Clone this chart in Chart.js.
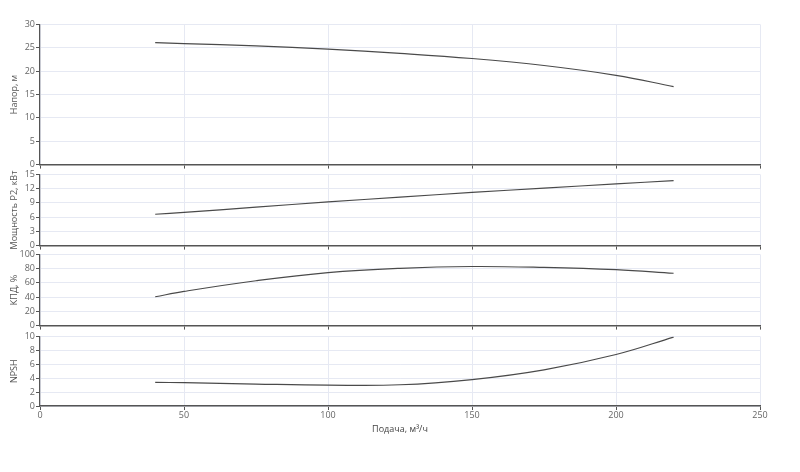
<!DOCTYPE html>
<html>
<head>
<meta charset="utf-8">
<script src="https://cdn.jsdelivr.net/npm/chart.js@4.4.1/dist/chart.umd.min.js"></script>
<style>
  body { margin: 0; background: #fff; }
  #wrap { position: relative; width: 800px; height: 472px; }
  canvas { position: absolute; left: 0; }
</style>
</head>
<body>
<div id="wrap">
  <canvas id="c-head" width="800" height="153" style="top:18px"></canvas>
  <canvas id="c-power" width="800" height="84" style="top:168px"></canvas>
  <canvas id="c-eff" width="800" height="84" style="top:248px"></canvas>
  <canvas id="c-npsh" width="800" height="105" style="top:330px"></canvas>
</div>
<script>
//data
const flow = [40, 50, 75, 100, 125, 150, 175, 200, 220];
const head = [26.1, 25.9, 25.4, 24.7, 23.8, 22.7, 21.2, 19.1, 16.7];
const power = [6.6, 7.0, 8.1, 9.2, 10.2, 11.2, 12.1, 13.0, 13.7];
const efficiency = [40.5, 48, 63, 74.5, 80.5, 83, 81.7, 78.5, 73.5];
const npsh = [3.4, 3.35, 3.15, 3.0, 3.05, 3.8, 5.2, 7.4, 9.9];

const xTicks = [0, 50, 100, 150, 200, 250];

const FONT = 'Open Sans';
const gridColor = '#e6e9f3';
const axisColor = '#555';

//build one panel
function makePanel(id, values, yTitle, yMax, yStep, last) {
  const points = flow.map((q, i) => ({x: q, y: values[i]}));
  return new Chart(document.getElementById(id), {
    type: 'line',
    data: {
      datasets: [{
        data: points,
        borderColor: '#4a4a4a',
        borderWidth: 1.2,
        pointRadius: 0,
        tension: 0.4,
        fill: false
      }]
    },
    options: {
      responsive: false,
      animation: false,
      layout: { padding: { top: 6, right: 40, left: 0, bottom: 0 } },
      plugins: { legend: { display: false }, tooltip: { enabled: false } },
      scales: {
        x: {
          type: 'linear',
          min: 0,
          max: 250,
          afterBuildTicks: (scale) => { scale.ticks = xTicks.map(v => ({value: v})); },
          afterFit: (scale) => { scale.height = last ? 29 : 6; },
          grid: { color: gridColor, tickColor: axisColor, tickLength: 4 },
          border: { color: axisColor, width: 1.5 },
          ticks: { display: last, padding: 0, color: '#666', font: { family: FONT, size: 9 }, maxRotation: 0 },
          title: {
            display: last,
            text: 'Подача, м³/ч',
            color: '#444',
            font: { family: FONT, size: 9 },
            padding: { top: 0, bottom: 0 }
          }
        },
        y: {
          min: 0,
          max: yMax,
          afterFit: (scale) => { scale.width = 40; },
          grid: { color: gridColor, tickColor: axisColor, tickLength: 4 },
          border: { color: axisColor, width: 1.2 },
          ticks: { stepSize: yStep, padding: 1, color: '#666', font: { family: FONT, size: 9 } },
          title: {
            display: true,
            text: yTitle,
            color: '#555',
            font: { family: FONT, size: 9 },
            padding: { top: 9, bottom: 0 }
          }
        }
      }
    }
  });
}

makePanel('c-head', head, 'Напор, м', 30, 5, false);
makePanel('c-power', power, 'Мощность Р2, кВт', 15, 3, false);
makePanel('c-eff', efficiency, 'КПД, %', 100, 20, false);
makePanel('c-npsh', npsh, 'NPSH', 10, 2, true);
</script>
</body>
</html>
